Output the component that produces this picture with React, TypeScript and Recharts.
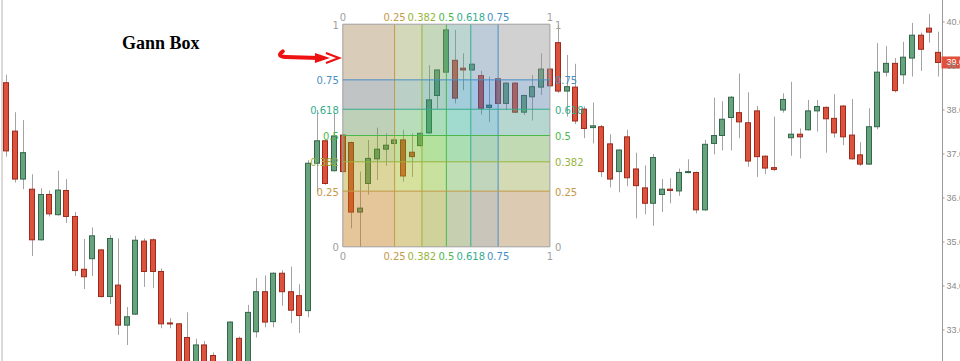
import { Bar, ComposedChart, ReferenceArea, ReferenceLine, XAxis, YAxis } from 'recharts';

// OHLC (109 velas, de izquierda a derecha)
const opens = [
  38.62, 37.52, 36.43, 36.2, 35.05, 36.08, 35.62, 36.17, 35.58, 34.38,
  34.62, 34.82, 33.76, 34.02, 33.11, 33.36, 35.02, 35.05, 34.33, 33.16,
  33.14, 32.83, 32.05, 32.66, 32.42, 31.9, 31.95, 32.81, 32.15, 32.96,
  33.87, 33.19, 34.29, 33.87, 33.78, 33.44, 36.79, 37.3, 36.62, 37.43,
  37.26, 35.68, 36.33, 36.89, 37.11, 37.24, 37.32, 37.04, 37.19, 37.48,
  38.33, 38.86, 39.13, 38.95, 38.91, 38.78, 38.06, 38.71, 38.15, 38.61,
  37.95, 38.3, 38.52, 38.93, 39.53, 38.43, 38.52, 38.02, 37.6, 37.62,
  37.23, 36.6, 37.39, 36.66, 36.23, 35.88, 36.08, 36.2, 36.16, 36.58,
  36.58, 35.73, 37.24, 37.42, 37.83, 37.94, 37.71, 37.98, 36.95, 36.69,
  38.0, 37.37, 37.45, 37.55, 37.98, 38.06, 37.81, 38.09, 37.43, 36.98,
  36.77, 37.62, 38.86, 39.06, 38.8, 39.18, 39.7, 39.86, 39.31,
];
const highs = [
  38.8, 37.95, 37.77, 36.54, 36.22, 36.17, 36.62, 36.43, 35.68, 35.07,
  35.33, 34.84, 35.16, 35.08, 33.52, 35.14, 35.08, 35.08, 34.4, 33.27,
  33.16, 33.4, 32.8, 32.75, 32.49, 32.2, 33.2, 32.85, 33.57, 34.18,
  34.24, 34.31, 34.36, 34.44, 34.04, 36.86, 38.0, 37.32, 37.93, 37.45,
  37.28, 36.6, 37.32, 37.6, 37.47, 37.34, 37.55, 37.47, 37.49, 39.02,
  38.93, 39.84, 39.82, 39.29, 39.06, 38.89, 38.76, 38.73, 38.63, 38.63,
  38.35, 38.8, 39.29, 38.95, 39.93, 39.25, 39.05, 38.08, 38.17, 37.66,
  37.45, 37.11, 37.55, 37.03, 36.74, 37.0, 36.43, 36.45, 36.67, 36.88,
  36.6, 37.32, 38.28, 38.2, 38.32, 38.83, 38.4, 38.09, 36.97, 37.85,
  38.38, 38.64, 37.58, 38.23, 38.23, 38.08, 38.36, 38.11, 38.25, 37.27,
  38.04, 39.52, 39.45, 39.18, 39.55, 39.98, 39.76, 40.18, 39.78,
];
const lows = [
  36.94, 36.35, 36.2, 34.68, 35.03, 35.58, 35.6, 35.43, 34.23, 33.93,
  34.23, 33.74, 33.59, 32.89, 32.66, 33.34, 33.98, 33.95, 33.04, 33.04,
  32.0, 32.05, 31.95, 32.0, 31.8, 31.75, 31.85, 32.05, 32.05, 32.83,
  33.06, 33.06, 33.55, 33.15, 32.93, 33.29, 36.14, 36.3, 36.6, 36.58,
  35.31, 34.89, 36.08, 36.41, 36.73, 37.22, 36.37, 36.48, 37.17, 37.46,
  38.02, 38.84, 38.15, 38.45, 38.89, 37.9, 37.73, 38.13, 38.0, 37.93,
  37.89, 37.76, 38.34, 38.53, 38.39, 37.85, 37.68, 37.36, 37.24, 36.48,
  36.24, 36.13, 36.27, 35.54, 35.63, 35.37, 35.68, 35.88, 36.05, 36.56,
  35.65, 35.71, 36.99, 37.08, 37.08, 37.36, 36.71, 36.48, 36.54, 36.61,
  37.94, 36.96, 36.9, 37.53, 37.51, 37.03, 37.37, 37.2, 36.87, 36.73,
  36.75, 37.56, 38.76, 38.4, 38.59, 38.76, 38.89, 39.53, 38.76,
];
const closes = [
  37.07, 36.43, 37.03, 35.05, 36.08, 35.64, 36.18, 35.58, 34.35, 34.21,
  35.14, 33.76, 35.08, 33.11, 33.3, 35.04, 34.33, 34.33, 33.14, 33.14,
  32.05, 32.14, 32.66, 32.14, 31.86, 32.1, 33.18, 32.15, 33.4, 33.87,
  33.18, 34.29, 33.87, 33.45, 33.33, 36.79, 37.3, 36.33, 37.41, 36.6,
  35.68, 35.77, 36.9, 37.11, 37.2, 37.32, 36.5, 36.94, 37.47, 38.23,
  38.91, 39.82, 38.27, 38.91, 39.04, 38.04, 38.11, 38.15, 38.61, 37.95,
  38.33, 38.53, 38.93, 38.55, 38.43, 38.53, 37.75, 37.58, 37.64, 36.6,
  36.43, 37.09, 36.46, 36.28, 35.88, 36.92, 36.2, 36.17, 36.58, 36.6,
  35.73, 37.22, 37.42, 37.79, 38.29, 37.73, 36.84, 36.94, 36.68, 36.65,
  38.24, 37.45, 37.39, 37.98, 38.08, 37.8, 37.48, 37.39, 36.89, 36.77,
  37.62, 38.86, 39.06, 38.44, 39.2, 39.7, 39.38, 39.77, 39.08,
];

const yTicks = [33, 34, 35, 36, 37, 38, 39, 40];

// Gann box: de la vela 40 a la 64, del mínimo 34.89 al máximo 39.95
const gannLevels = [0, 0.25, 0.382, 0.5, 0.618, 0.75, 1];
const gannLabels = ['0', '0.25', '0.382', '0.5', '0.618', '0.75', '1'];
const GANN_START = 39;
const GANN_END = 63;
const GANN_LOW = 34.89;
const GANN_HIGH = 39.95;

// flecha roja de anotación (índice de vela, precio)
const arrowFrom = { x: 31.7, y: 39.24 };
const arrowTo = { x: 38.55, y: 39.18 };

const lineColors = ['#a0a0a0', '#c39a48', '#96b43c', '#4cb84c', '#36ad8c', '#4a8fc4', '#a0a0a0'];
const bandColors = ['#c07a10', '#a0b818', '#50b818', '#20a890', '#2870c0', '#949494'];

const RED = '#dc523c';
const RED_EDGE = '#9c2a1c';
const GREEN = '#67a37c';
const GREEN_EDGE = '#33664a';
const WICK = '#a3a3a3';

const data = opens.map((o, i) => ({
  i,
  open: o,
  high: highs[i],
  low: lows[i],
  close: closes[i],
}));

const gx = (f: number) => GANN_START + f * (GANN_END - GANN_START);
const gy = (f: number) => GANN_LOW + f * (GANN_HIGH - GANN_LOW);

const LABEL_FONT = { fontFamily: '"DejaVu Sans", Verdana, sans-serif', fontSize: 10 };

function Candle(props: any) {
  const { x, y, width, height, payload } = props;
  if (x == null || y == null || !payload) return null;
  const { open, close, high, low } = payload;
  const top = Math.min(y, y + height);
  const h = Math.abs(height);
  const k = high > low ? h / (high - low) : 0;
  const py = (v: number) => top + (high - v) * k;
  const up = close >= open;
  const bTop = py(Math.max(open, close));
  const bBot = py(Math.min(open, close));
  const cx = Math.round(x + width / 2) + 0.5;
  const bx = Math.round(x) + 0.5;
  return (
    <g>
      <line x1={cx} x2={cx} y1={top} y2={top + h} stroke={WICK} strokeWidth={1} />
      <rect
        x={bx}
        y={bTop}
        width={width - 1}
        height={Math.max(bBot - bTop, 1)}
        fill={up ? GREEN : RED}
        stroke={up ? GREEN_EDGE : RED_EDGE}
        strokeWidth={1}
      />
    </g>
  );
}

function GannV({ x1, y1, x2, y2, color, text }: any) {
  const top = Math.min(y1, y2);
  const bot = Math.max(y1, y2);
  return (
    <g>
      <line x1={x1} x2={x2} y1={y1} y2={y2} stroke={color} strokeWidth={1} />
      <text x={x1} y={top - 7} textAnchor="middle" dominantBaseline="central" fill={color} {...LABEL_FONT}>
        {text}
      </text>
      <text x={x1} y={bot + 10} textAnchor="middle" dominantBaseline="central" fill={color} {...LABEL_FONT}>
        {text}
      </text>
    </g>
  );
}

function GannH({ x1, y1, x2, y2, color, text }: any) {
  const left = Math.min(x1, x2);
  const right = Math.max(x1, x2);
  return (
    <g>
      <line x1={x1} x2={x2} y1={y1} y2={y2} stroke={color} strokeWidth={1} />
      <text x={left - 4} y={y1 + 1} textAnchor="end" dominantBaseline="central" fill={color} {...LABEL_FONT}>
        {text}
      </text>
      <text x={right + 5} y={y1 + 1} textAnchor="start" dominantBaseline="central" fill={color} {...LABEL_FONT}>
        {text}
      </text>
    </g>
  );
}

function Arrow({ x1, y1, x2, y2 }: any) {
  const c = '#ee1111';
  return (
    <g>
      <path
        d={`M${x1 + 3},${y1 - 4} Q${x1 - 4},${y1 + 1} ${x1 + 6},${y1 + 1.5} L${x2 - 20},${y2}`}
        fill="none"
        stroke={c}
        strokeWidth={4}
        strokeLinecap="round"
      />
      <polygon points={`${x2 - 24},${y2 - 5} ${x2 - 9},${y2} ${x2 - 24},${y2 + 5}`} fill={c} />
      <polyline
        points={`${x2 - 13},${y2 - 5} ${x2},${y2} ${x2 - 13},${y2 + 5}`}
        fill="none"
        stroke={c}
        strokeWidth={2.2}
      />
    </g>
  );
}

function PriceTag(props: any) {
  const vb = props.viewBox;
  if (!vb) return null;
  const x = vb.x + vb.width;
  const y = vb.y;
  return (
    <g>
      <rect x={x - 1} y={y - 6} width={50} height={12} fill="#e0503a" />
      <text x={x + 4} y={y} dominantBaseline="central" fill="#fff" fontFamily="'Liberation Sans', Arial, sans-serif" fontSize={9}>
        {closes[closes.length - 1].toFixed(2)}
      </text>
    </g>
  );
}

export default function App() {
  return (
    <div style={{ position: 'absolute', left: 0, top: 0, width: 960, height: 361, overflow: 'hidden', background: '#fff' }}>
      <ComposedChart width={990} height={361} data={data} margin={{ top: 0, right: 0, bottom: 0, left: 2 }}>
        <XAxis type="number" dataKey="i" domain={[-0.5, 108.5]} hide allowDataOverflow />
        <YAxis
          orientation="right"
          width={47.5}
          domain={[32.295, 40.5]}
          allowDataOverflow
          ticks={yTicks}
          interval={0}
          tickFormatter={(v: number) => v.toFixed(2)}
          tick={{ fontSize: 9, fill: '#8a8a8a', fontFamily: "'Liberation Sans', Arial, sans-serif" }}
          tickSize={2}
          tickMargin={2}
          axisLine={{ stroke: '#999' }}
          tickLine={{ stroke: '#999' }}
        />
        <ReferenceLine x={-0.5} stroke="#b4b4b4" ifOverflow="visible" />
        <Bar
          dataKey={(d: any) => [d.low, d.high]}
          barSize={6}
          shape={<Candle />}
          isAnimationActive={false}
        />
        {bandColors.map((c, k) => (
          <ReferenceArea
            key={`v${k}`}
            x1={gx(gannLevels[k])}
            x2={gx(gannLevels[k + 1])}
            y1={GANN_LOW}
            y2={GANN_HIGH}
            fill={c}
            fillOpacity={0.24}
            stroke="none"
            zIndex={450}
          />
        ))}
        {bandColors.map((c, k) => (
          <ReferenceArea
            key={`h${k}`}
            x1={GANN_START}
            x2={GANN_END}
            y1={gy(gannLevels[k])}
            y2={gy(gannLevels[k + 1])}
            fill={c}
            fillOpacity={0.24}
            stroke="none"
            zIndex={450}
          />
        ))}
        {gannLevels.map((f, k) => (
          <ReferenceLine
            key={`gv${k}`}
            segment={[{ x: gx(f), y: GANN_LOW }, { x: gx(f), y: GANN_HIGH }]}
            zIndex={460}
            shape={(p: any) => <GannV {...p} color={lineColors[k]} text={gannLabels[k]} />}
          />
        ))}
        {gannLevels.map((f, k) => (
          <ReferenceLine
            key={`gh${k}`}
            segment={[{ x: GANN_START, y: gy(f) }, { x: GANN_END, y: gy(f) }]}
            zIndex={460}
            shape={(p: any) => <GannH {...p} color={lineColors[k]} text={gannLabels[k]} />}
          />
        ))}
        <ReferenceLine
          segment={[arrowFrom, arrowTo]}
          ifOverflow="visible"
          zIndex={470}
          shape={(p: any) => <Arrow {...p} />}
        />
        <ReferenceLine
          y={closes[closes.length - 1]}
          stroke="none"
          ifOverflow="visible"
          zIndex={600}
          label={<PriceTag />}
        />
      </ComposedChart>
      <div
        style={{
          position: 'absolute',
          left: 122,
          top: 33,
          fontFamily: "'Liberation Serif', 'Times New Roman', serif",
          fontWeight: 'bold',
          fontSize: 18,
          lineHeight: '20px',
          color: '#000',
        }}
      >
        Gann Box
      </div>
    </div>
  );
}
